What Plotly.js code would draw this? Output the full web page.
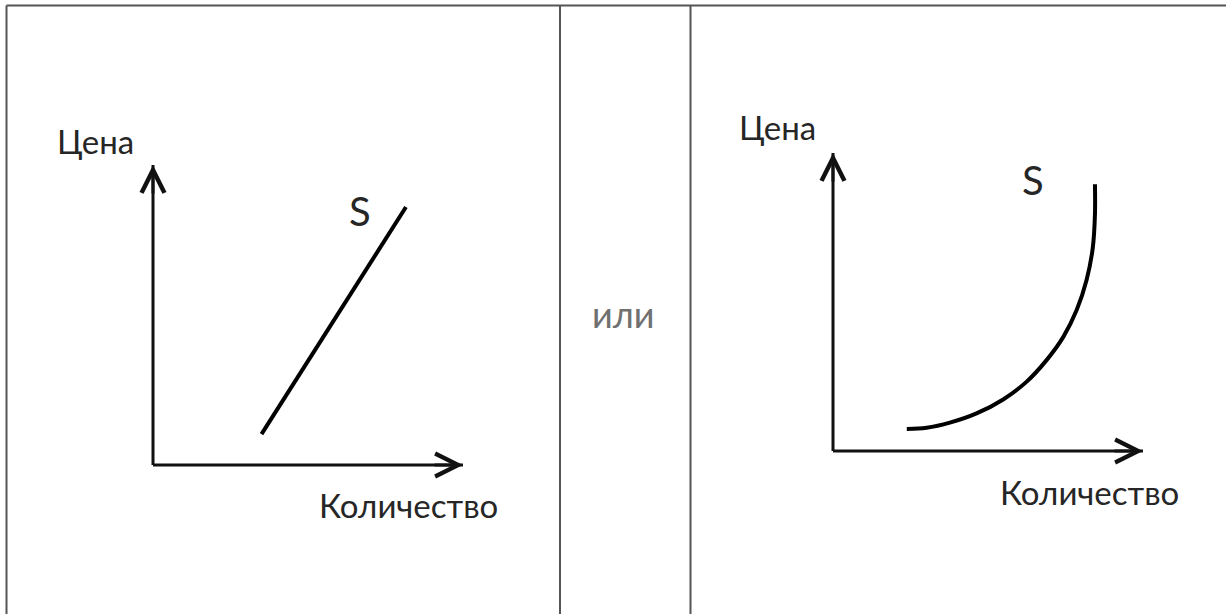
<!DOCTYPE html>
<html>
<head>
<meta charset="utf-8">
<script src="https://cdn.plot.ly/plotly-3.0.1.min.js"></script>
<style>
  html, body { margin: 0; padding: 0; background: #fff; }
  #chart { width: 1226px; height: 614px; }
</style>
</head>
<body>
<div id="chart"></div>
<script>
// Panel 1: linear supply curve (quantity, price)
const linearQty = [3.5, 8.16];
const linearPrice = [1.03, 8.6];

// Panel 2: convex supply curve
const curveQty = [2.38, 3.02, 3.77, 4.63, 5.49, 6.24, 6.89, 7.43, 7.86, 8.18, 8.38, 8.45, 8.45];
const curvePrice = [0.74, 0.78, 0.95, 1.26, 1.73, 2.32, 3.05, 3.83, 4.73, 5.74, 6.82, 7.94, 8.95];

// Axis arrows (from origin to tip)
const axisLen = 10;

const labelPrice = 'Цена';
const labelQty = 'Количество';
const labelCurve = 'S';
const labelOr = 'или';

const W = 1226, H = 614;
const font = 'Lato, "Open Sans", sans-serif';

// pixel box -> paper domain
function domX(a, b) { return [a / W, b / W]; }
function domY(top, bottom) { return [1 - bottom / H, 1 - top / H]; }
function px(x) { return x / W; }
function py(y) { return 1 - y / H; }

const axisStyle = { color: '#111', width: 3 };
const curveStyle = { color: '#000', width: 4 };

function axisTraces(xa, ya) {
    return [
        { x: [0, axisLen], y: [0, 0], xaxis: xa, yaxis: ya, mode: 'lines', line: axisStyle, hoverinfo: 'skip' },
        { x: [0, 0], y: [0, axisLen], xaxis: xa, yaxis: ya, mode: 'lines', line: axisStyle, hoverinfo: 'skip' }
    ];
}

const data = [
    ...axisTraces('x', 'y'),
    { x: linearQty, y: linearPrice, xaxis: 'x', yaxis: 'y', mode: 'lines', line: curveStyle },
    ...axisTraces('x2', 'y2'),
    { x: curveQty, y: curvePrice, xaxis: 'x2', yaxis: 'y2', mode: 'lines',
      line: Object.assign({ shape: 'spline', smoothing: 1 }, curveStyle) }
];

function arrowHead(xr, yr, x, y, ax, ay) {
    return { xref: xr, yref: yr, x: x, y: y, axref: 'pixel', ayref: 'pixel', ax: ax, ay: ay,
             text: '', showarrow: true, arrowhead: 5, arrowsize: 1.5, arrowwidth: 3, arrowcolor: '#111' };
}

function label(text, x, y, color, size) {
    return { xref: 'paper', yref: 'paper', x: px(x), y: py(y), text: text, showarrow: false,
             xanchor: 'center', yanchor: 'middle',
             font: { family: font, size: size || 33, color: color || '#262626' } };
}

const hidden = { visible: false, fixedrange: true, range: [-1, 11] };

const layout = {
    width: W, height: H,
    margin: { l: 0, r: 0, t: 0, b: 0 },
    paper_bgcolor: '#fff', plot_bgcolor: 'rgba(0,0,0,0)',
    showlegend: false,
    xaxis: Object.assign({ domain: domX(122, 494) }, hidden),
    yaxis: Object.assign({ domain: domY(135, 495) }, hidden),
    xaxis2: Object.assign({ domain: domX(802, 1174), anchor: 'y2' }, hidden),
    yaxis2: Object.assign({ domain: domY(123.2, 480.8), anchor: 'x2' }, hidden),
    shapes: [
        { type: 'line', xref: 'paper', yref: 'paper', x0: px(6.5), x1: 1, y0: py(5.5), y1: py(5.5), line: { color: '#555', width: 2 } },
        { type: 'line', xref: 'paper', yref: 'paper', x0: px(6.5), x1: px(6.5), y0: 0, y1: py(5.5), line: { color: '#555', width: 2 } },
        { type: 'line', xref: 'paper', yref: 'paper', x0: px(560), x1: px(560), y0: 0, y1: py(5.5), line: { color: '#555', width: 2 } },
        { type: 'line', xref: 'paper', yref: 'paper', x0: px(690.5), x1: px(690.5), y0: 0, y1: py(5.5), line: { color: '#555', width: 2 } }
    ],
    annotations: [
        arrowHead('x', 'y', axisLen, 0, -30, 0),
        arrowHead('x', 'y', 0, axisLen, 0, 30),
        arrowHead('x2', 'y2', axisLen, 0, -30, 0),
        arrowHead('x2', 'y2', 0, axisLen, 0, 30),
        label(labelPrice, 96, 141),
        label(labelQty, 408, 505),
        label(labelCurve, 360, 211, '#262626', 40),
        label(labelOr, 623, 314, '#707070', 36),
        label(labelPrice, 777, 127),
        label(labelQty, 1089, 492),
        label(labelCurve, 1033, 180, '#262626', 40)
    ]
};

Plotly.newPlot('chart', data, layout, { staticPlot: true, displayModeBar: false });
</script>
</body>
</html>
